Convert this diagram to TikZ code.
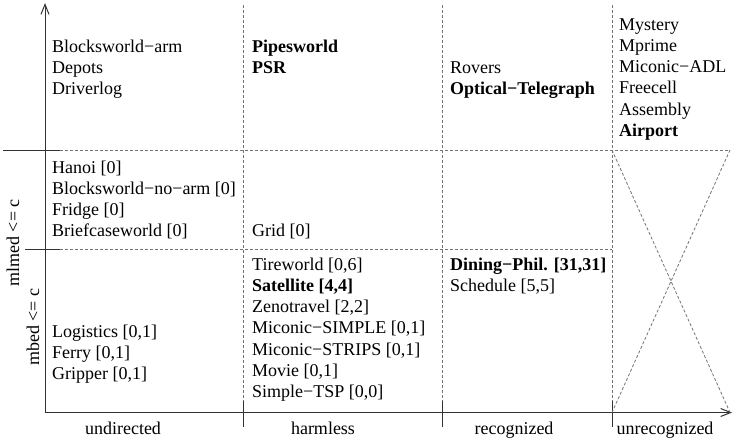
\documentclass[tikz,border=0pt]{standalone}
\usepackage{fontspec}
\setmainfont{LiberationSerif}[Extension=.ttf, UprightFont=*-Regular, BoldFont=*-Bold]
\usetikzlibrary{arrows.meta}

\begin{document}
\begin{tikzpicture}[
x=1pt, y=-1pt,
lbl/.style={anchor=base west, inner sep=0pt, font=\rmfamily\fontsize{18}{21}\selectfont},
axlbl/.style={anchor=base, inner sep=0pt, font=\rmfamily\fontsize{18}{21}\selectfont},
ylbl/.style={rotate=90, inner sep=0pt, font=\rmfamily\fontsize{18}{21}\selectfont},
axis/.style={line width=1pt, black!80},
sep/.style={line width=0.8pt, black!55, dash pattern=on 3pt off 2pt},
tip/.style={-{Straight Barb[length=10pt,width=8pt]}}
]
\useasboundingbox (0,0) rectangle (734,440);

% axes and ticks
\coordinate (orig) at (45,412.5);
\coordinate (ytop) at (45,3);
\coordinate (xend) at (732,412.5);
\draw[axis, tip] (orig) -- (ytop);
\draw[axis, tip] (orig) -- (xend);
\coordinate (hA0) at (3,150);   \coordinate (hA1) at (60,150);  \coordinate (hA2) at (730,150);
\coordinate (hB0) at (25,249);  \coordinate (hB1) at (60,249);  \coordinate (hB2) at (612,249);
\draw[axis] (hA0) -- (hA1);
\draw[axis] (hB0) -- (hB1);
\draw[sep] (hA1) -- (hA2);
\draw[sep] (hB1) -- (hB2);
\foreach \vx [count=\k] in {243,442,612} {
  \coordinate (vtop\k) at (\vx,5);
  \coordinate (vax\k) at (\vx,412.5);
  \coordinate (vlo\k) at (\vx,427);
  \coordinate (vhi\k) at (\vx,401);
  \draw[sep] (vtop\k) -- (vax\k);
  \draw[axis] (vhi\k) -- (vlo\k);
}
% crossed-out cell
\coordinate (xbl) at (612,412.5);
\coordinate (xbr) at (730,412.5);
\coordinate (xtl) at (612,150);
\draw[sep] (xtl) -- (xbr);
\draw[sep] (hA2) -- (xbl);

% axis labels
\node[axlbl] (undir) at (123,434) {undirected};
\node[axlbl] (harm) at (323,434) {harmless};
\node[axlbl] (recog) at (514,434) {recognized};
\node[axlbl] (unrec) at (665,434) {unrecognized};
\node[ylbl] (mlmed) at (13,243) {mlmed <= c};
\node[ylbl] (mbed) at (33,327) {mbed <= c};

% top row
\foreach \t [count=\i from 0] in {Blocksworld−arm, Depots, Driverlog}
  \node[lbl] (undirTop-\i) at (52,{52+21.3*\i}) {\t};
\foreach \t [count=\i from 0] in {{\textbf{Pipesworld}}, {\textbf{PSR}}}
  \node[lbl] (harmTop-\i) at (252,{52+21.3*\i}) {\t};
\foreach \t [count=\i from 0] in {Rovers, {\textbf{Optical−Telegraph}}}
  \node[lbl] (recogTop-\i) at (450,{73+21.3*\i}) {\t};
\foreach \t [count=\i from 0] in {Mystery, Mprime, Miconic−ADL, Freecell, Assembly, {\textbf{Airport}}}
  \node[lbl] (unrec-\i) at (619,{30+21.3*\i}) {\t};

% mlmed row
\foreach \t [count=\i from 0] in {Hanoi [0], Blocksworld−no−arm [0], Fridge [0], Briefcaseworld [0]}
  \node[lbl] (undirMid-\i) at (52,{173+21.3*\i}) {\t};
\node[lbl] (harmMid-0) at (252,236) {Grid [0]};

% mbed row
\foreach \t [count=\i from 0] in {{Logistics [0,1]}, {Ferry [0,1]}, {Gripper [0,1]}}
  \node[lbl] (undirBot-\i) at (52,{337+21.3*\i}) {\t};
\foreach \t [count=\i from 0] in {{Tireworld [0,6]}, {\textbf{Satellite [4,4]}}, {Zenotravel [2,2]},
  {Miconic−SIMPLE [0,1]}, {Miconic−STRIPS [0,1]}, {Movie [0,1]}, {Simple−TSP [0,0]}}
  \node[lbl] (harmBot-\i) at (252,{270+21.3*\i}) {\t};
\foreach \t [count=\i from 0] in {{\textbf{Dining−Phil. [31,31]}}, {Schedule [5,5]}}
  \node[lbl] (recogBot-\i) at (450,{270+21.3*\i}) {\t};
\end{tikzpicture}
\end{document}
